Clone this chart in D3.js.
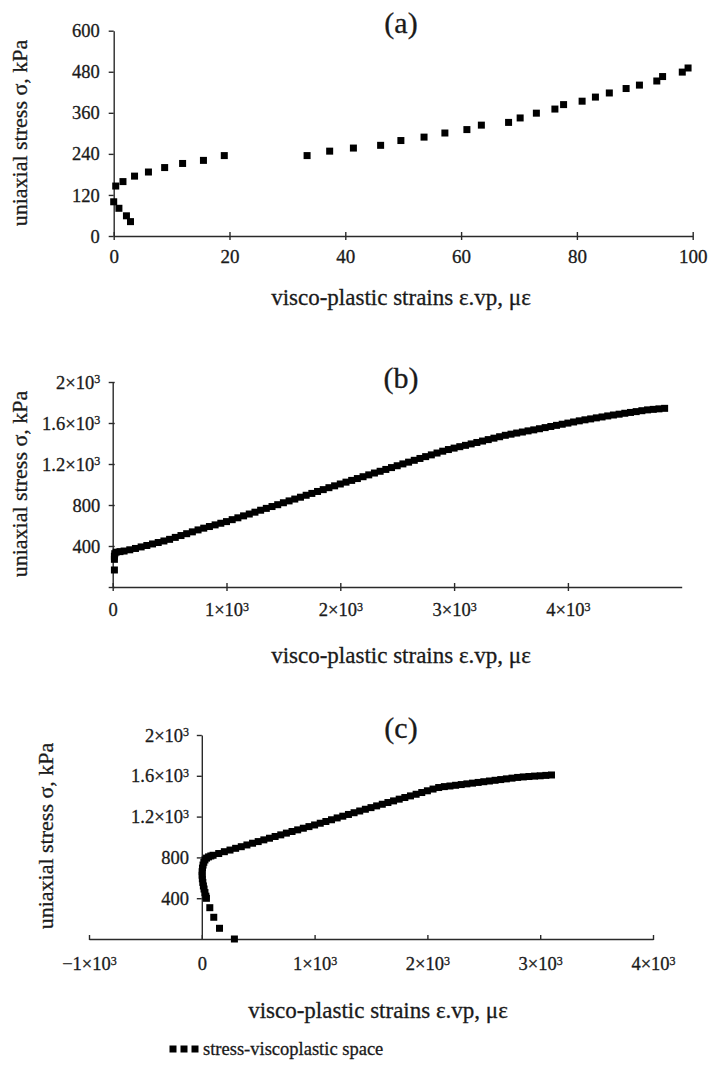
<!DOCTYPE html>
<html>
<head>
<meta charset="utf-8">
<script src="https://cdn.jsdelivr.net/npm/d3@7"></script>
<style>
  body { margin: 0; background: #fff; }
  svg { display: block; }
  svg text { font-family: "Liberation Serif", "Times New Roman", serif; fill: #1a1a1a; stroke: #1a1a1a; stroke-width: 0.3px; }
</style>
</head>
<body>
<div class="main"></div>
<script>
// (a) strain (με), stress (kPa)
const aPoints = [
  [0,100],[0.9,81],[2.2,59],[2.9,42],[0.35,146],[1.6,159],[3.6,175],[6.0,187],[8.8,200],
  [11.9,212],[15.5,221],[19.1,235],[33.4,235],[37.3,248],[41.4,257],[46.1,265],[49.6,279],
  [53.6,289],[57.2,301],[61.0,311],[63.5,324],[68.2,332],[70.2,345],[73.0,359],[76.2,371],
  [77.7,384],[80.9,394],[83.2,406],[85.6,418],[88.5,431],[90.8,441],[93.8,453],[94.8,466],
  [98.2,479],[99.2,491]
];

// (b)
const bPoints = [
  [15,166],[15,270],[15,300],[18,325],[30,340],[64,345],
  [100,351],[150,363],[200,376],[250,391],[300,405],[350,420],[400,434],[450,449],[500,465],[550,484],
  [600,502],[650,520],[700,538],[750,557],[800,574],[850,590],[900,606],[950,622],[1000,638],[1050,657],
  [1100,675],[1150,694],[1200,712],[1250,730],[1300,749],[1350,767],[1400,785],[1450,803],[1500,822],[1550,840],
  [1600,858],[1650,876],[1700,895],[1750,913],[1800,932],[1850,950],[1900,969],[1950,987],[2000,1005],[2050,1023],
  [2100,1040],[2150,1058],[2200,1076],[2250,1094],[2300,1112],[2350,1129],[2400,1147],[2450,1165],[2500,1183],[2550,1201],
  [2600,1218],[2650,1236],[2700,1254],[2750,1272],[2800,1289],[2850,1307],[2900,1325],[2950,1341],[3000,1355],[3050,1369],
  [3100,1382],[3150,1396],[3200,1410],[3250,1424],[3300,1438],[3350,1452],[3400,1466],[3450,1480],[3500,1491],[3550,1502],
  [3600,1512],[3650,1523],[3700,1533],[3750,1544],[3800,1555],[3850,1566],[3900,1577],[3950,1588],[4000,1599],[4050,1610],
  [4100,1621],[4150,1631],[4200,1640],[4250,1650],[4300,1659],[4350,1669],[4400,1678],[4450,1686],[4500,1695],[4550,1703],
  [4600,1711],[4650,1720],[4700,1728],[4750,1733],[4800,1738],[4850,1743]
];

// (c)
const cPoints = [
  [289,0],[157,105],[106,213],[71,307],[41,399],
  [36,420],[28,455],[20,490],[14,520],[9,555],[5,590],[3,625],[3,660],[6,695],[11,725],
  [18,752],[28,775],[42,793],[60,805],[80,814],
  [100,821],[150,838],[200,856],[250,872],[300,889],[350,905],[400,922],[450,939],[500,955],[550,972],
  [600,988],[650,1005],[700,1021],[750,1038],[800,1054],[850,1070],[900,1086],[950,1102],[1000,1118],[1050,1135],
  [1100,1152],[1150,1169],[1200,1187],[1250,1204],[1300,1221],[1350,1238],[1400,1255],[1450,1272],[1500,1288],[1550,1305],
  [1600,1321],[1650,1338],[1700,1354],[1750,1371],[1800,1387],[1850,1403],[1900,1419],[1950,1436],[2000,1453],[2050,1470],
  [2100,1485],[2150,1494],[2200,1500],[2250,1507],[2300,1514],[2350,1521],[2400,1528],[2450,1535],[2500,1542],[2550,1549],
  [2600,1556],[2650,1563],[2700,1570],[2750,1577],[2800,1584],[2850,1589],[2900,1593],[2950,1597],[3000,1600],[3050,1604],
  [3100,1608]
];

// ticks and labels
const aXTicks = [0, 20, 40, 60, 80, 100];
const aXLabels = ["0", "20", "40", "60", "80", "100"];
const aYTicks = [0, 120, 240, 360, 480, 600];
const aYLabels = ["0", "120", "240", "360", "480", "600"];

const bXTicks = [0, 1000, 2000, 3000, 4000];
const bXLabels = ["0", "1×10^3", "2×10^3", "3×10^3", "4×10^3"];
const bYTicks = [0, 400, 800, 1200, 1600, 2000];
const bYLabels = ["", "400", "800", "1.2×10^3", "1.6×10^3", "2×10^3"];

const cXTicks = [-1000, 0, 1000, 2000, 3000, 4000];
const cXLabels = ["\u22121×10^3", "0", "1×10^3", "2×10^3", "3×10^3", "4×10^3"];
const cYTicks = [400, 800, 1200, 1600, 2000];
const cYLabels = ["400", "800", "1.2×10^3", "1.6×10^3", "2×10^3"];

const yTitle = "uniaxial stress \u03c3, kPa";
const xTitle = "visco-plastic strains \u03b5.vp, \u03bc\u03b5";
const legendText = "stress-viscoplastic space";

const serif = '"Liberation Serif", "Times New Roman", serif';

const svg = d3.select("div.main").append("svg")
  .attr("width", 721)
  .attr("height", 1080);

// turn "1×10^3" into base + superscript
function superscripts(sel) {
  sel.each(function() {
    let t = d3.select(this);
    let s = t.text();
    if (s.indexOf("^") == -1) return;
    let parts = s.split("^");
    t.text(null);
    t.append("tspan").text(parts[0]);
    t.append("tspan").attr("dy", "-0.45em").attr("font-size", "0.65em").text(parts[1]);
  });
}

function panel(o) {
  let x = d3.scaleLinear().domain(o.xDomain).range([o.left, o.right]);
  let y = d3.scaleLinear().domain(o.yDomain).range([o.bottom, o.top]);

  let g = svg.append("g");

  // x axis, ticks cross the line
  let gx = g.append("g")
    .attr("transform", "translate(0," + o.bottom + ")")
    .call(d3.axisBottom(x).tickValues(o.xTicks).tickSizeOuter(0)
      .tickFormat((d, i) => o.xLabels[i]));
  gx.selectAll(".tick line").attr("y1", -o.xTickUp).attr("y2", o.xTickDown);
  gx.selectAll(".tick text")
    .attr("y", o.xLabelOffset).attr("dy", 0)
    .style("font-size", o.xTickFont + "px")
    .call(superscripts);

  // y axis
  let axisX = o.yAxisAt == null ? o.left : x(o.yAxisAt);
  let gy = g.append("g")
    .attr("transform", "translate(" + axisX + ",0)")
    .call(d3.axisLeft(y).tickValues(o.yTicks).tickSizeOuter(0)
      .tickFormat((d, i) => o.yLabels[i]));
  gy.selectAll(".tick line").attr("x1", o.yTickIn).attr("x2", -o.yTickOut);
  gy.selectAll(".tick text")
    .attr("x", -o.yLabelOffset).attr("dy", "0.33em")
    .style("font-size", "18.5px")
    .call(superscripts);

  [gx, gy].forEach(a => {
    a.attr("font-family", serif).attr("font-size", null).attr("color", "#2a2a2a");
    a.selectAll("text").attr("fill", null);
    a.selectAll("path, line").attr("stroke-width", 1.4);
  });

  // markers
  g.append("g").selectAll("rect")
    .data(o.points)
    .join("rect")
      .attr("x", d => x(d[0]) - 3.5)
      .attr("y", d => y(d[1]) - 3.5)
      .attr("width", 7)
      .attr("height", 7)
      .attr("fill", "#000");

  // panel letter
  g.append("text")
    .attr("x", 401).attr("y", o.titleY)
    .attr("text-anchor", "middle")
    .style("font-size", "30px")
    .text(o.title);

  // axis titles
  g.append("text")
    .attr("transform", "translate(" + o.yTitleX + "," + o.yTitleY + ")rotate(-90)")
    .attr("text-anchor", "middle")
    .style("font-size", "22px")
    .text(yTitle);

  g.append("text")
    .attr("x", o.xTitleX).attr("y", o.xTitleY)
    .attr("text-anchor", "middle")
    .style("font-size", "23px")
    .text(xTitle);
}

panel({
  points: aPoints, title: "(a)", titleY: 33,
  xDomain: [0, 100], yDomain: [0, 600],
  left: 113.7, right: 692.7, bottom: 236, top: 30.7,
  xTicks: aXTicks, xLabels: aXLabels, yTicks: aYTicks, yLabels: aYLabels,
  xTickUp: 4, xTickDown: 4, xLabelOffset: 27, xTickFont: 19,
  yTickIn: 0, yTickOut: 5, yLabelOffset: 14,
  yTitleX: 27, yTitleY: 133, xTitleX: 401, xTitleY: 305
});

panel({
  points: bPoints, title: "(b)", titleY: 388,
  xDomain: [0, 5000], yDomain: [0, 2000],
  left: 112.7, right: 681.7, bottom: 587, top: 382,
  xTicks: bXTicks, xLabels: bXLabels, yTicks: bYTicks, yLabels: bYLabels,
  xTickUp: 4, xTickDown: 4, xLabelOffset: 29, xTickFont: 18.5,
  yTickIn: 2, yTickOut: 4, yLabelOffset: 12.5,
  yTitleX: 27, yTitleY: 484, xTitleX: 401, xTitleY: 663
});

panel({
  points: cPoints, title: "(c)", titleY: 738,
  xDomain: [-1000, 4000], yDomain: [0, 2000],
  left: 89, right: 653, bottom: 939, top: 735, yAxisAt: 0,
  xTicks: cXTicks, xLabels: cXLabels, yTicks: cYTicks, yLabels: cYLabels,
  xTickUp: 4, xTickDown: 1, xLabelOffset: 31, xTickFont: 18.5,
  yTickIn: 0, yTickOut: 5, yLabelOffset: 12.7,
  yTitleX: 53, yTitleY: 836, xTitleX: 378, xTitleY: 1018
});

// legend
let legend = svg.append("g").attr("transform", "translate(0,1049)");
legend.selectAll("rect")
  .data([173, 184, 195])
  .join("rect")
    .attr("x", d => d - 3.5)
    .attr("y", -3.5)
    .attr("width", 7)
    .attr("height", 7)
    .attr("fill", "#000");
legend.append("text")
  .attr("x", 203).attr("y", 6)
  .style("font-size", "18.5px")
  .text(legendText);
</script>
</body>
</html>
